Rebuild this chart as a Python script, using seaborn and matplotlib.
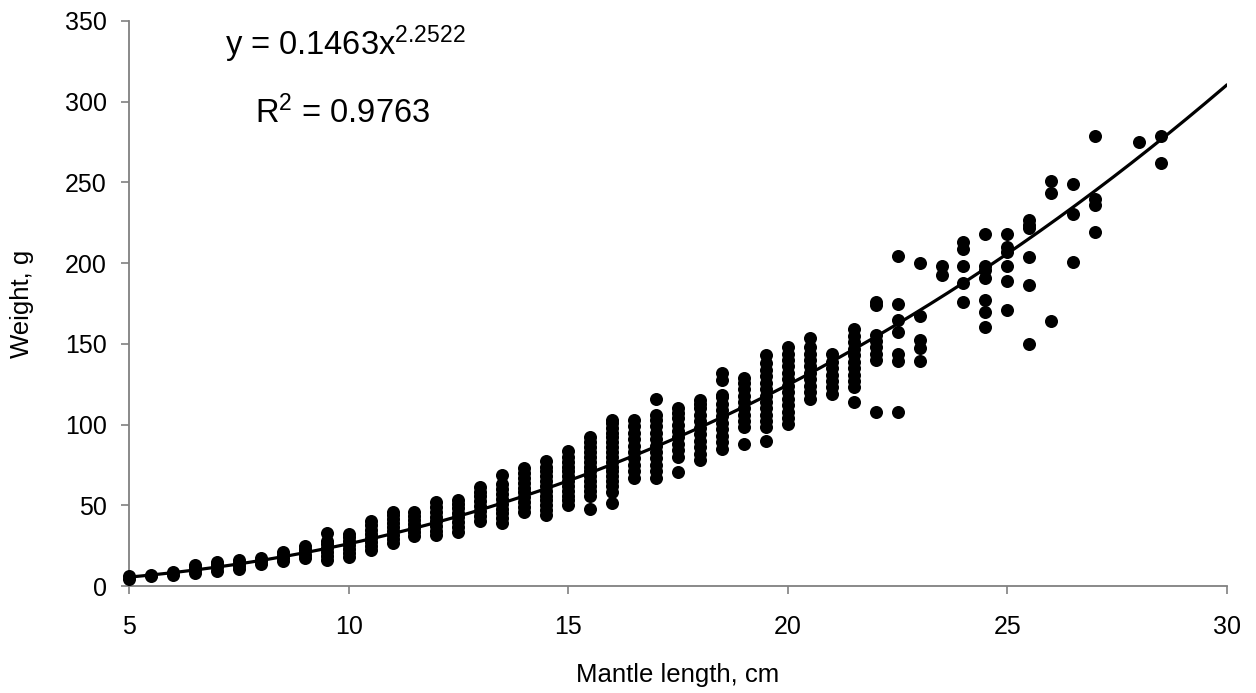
import numpy as np
import pandas as pd
import matplotlib
matplotlib.use("Agg")
from matplotlib import pyplot as plt
import seaborn as sns

mantle_cm = [5.0, 5.5, 6.0, 6.5, 7.0, 7.5, 8.0, 8.5, 9.0, 9.5,
             10.0, 10.5, 11.0, 11.5, 12.0, 12.5, 13.0, 13.5, 14.0, 14.5,
             15.0, 15.5, 16.0, 16.5, 17.0, 17.5, 18.0, 18.5, 19.0, 19.5,
             20.0, 20.5, 21.0, 21.5, 22.0, 22.5, 23.0, 23.5, 24.0, 24.5,
             25.0, 25.5, 26.0, 26.5, 27.0, 28.0, 28.5]

weight_g = [
    [4.5, 6],
    [6, 7],
    [7, 8.5],
    [8, 10, 12, 13],
    [9.5, 11.5, 13.5, 15],
    [10.5, 12.5, 14.5, 16],
    [13.5, 15.5, 17.5],
    [15.5, 17.5, 19.5, 21],
    [17.5, 19.5, 21.5, 23, 24.5],
    [16, 18.5, 21, 23.5, 26, 28, 33],
    [18, 20.5, 23, 25.5, 28, 30.5, 32.5],
    [22.5, 25, 27.5, 30, 32.5, 35, 37.5, 40.5],
    [26.5, 29, 31.5, 34, 36.5, 39, 41.5, 44, 46],
    [31, 33.5, 36, 38.5, 41, 43.5, 46],
    [31.5, 34, 37, 40, 43, 46, 49, 52],
    [33.5, 36.5, 39.5, 42.5, 45.5, 48.5, 51, 53.5],
    [40.5, 43.5, 46.5, 49.5, 52.5, 55.5, 58.5, 61.5],
    [39, 42, 45, 48, 51, 54, 57, 60, 63, 69],
    [46, 49, 52, 55, 58, 61, 64, 67, 70, 73],
    [44, 47, 50, 53, 56, 59, 62, 65, 68, 71, 74, 77.5],
    [50, 53, 56, 59, 62, 65, 68, 71, 74, 77, 80, 83.5],
    [48, 56, 59, 62, 65, 68, 71, 74, 77, 80, 83, 86, 89, 92.5],
    [51.5, 58.5, 62, 65, 68, 71, 74, 77, 80, 83, 86, 89, 92, 95, 98, 101, 103],
    [67, 71, 75, 79, 83, 87, 91, 95, 99, 103],
    [67, 71, 75, 79, 83, 87, 91, 95, 99, 103, 106, 116],
    [70.5, 80, 84, 88, 92, 96, 100, 104, 107, 110],
    [78, 82, 86, 90, 94, 98, 102, 106, 110, 113, 115.5],
    [85, 89, 93, 97, 101, 105, 109, 113, 117, 118.5, 127.5, 132],
    [88, 98.5, 102, 106, 110, 114, 118, 122, 126, 129],
    [90, 98.5, 102, 106, 110, 114, 118, 122, 126, 130, 134, 138, 143],
    [100.5, 104, 108, 112, 116, 120, 124, 128, 132, 136, 140, 144, 148],
    [116, 120, 124, 128, 132, 136, 140, 144, 148, 153.5],
    [119, 123, 127, 131, 135, 139, 144],
    [114, 123.5, 127, 131, 135, 139, 143, 147, 151, 155, 159],
    [108, 140, 144, 148, 152, 155.5, 174, 176],
    [108, 139.5, 144, 157.5, 165, 174.5, 204.5],
    [139.5, 147.5, 152.5, 167, 200],
    [192.5, 198.5],
    [176, 187.5, 198, 208.5, 213],
    [160.5, 169.5, 177, 190.5, 195.5, 198, 218],
    [171, 189, 198, 207, 210, 218],
    [150, 186.5, 203.5, 221.5, 223.5, 227],
    [164, 243.5, 251],
    [201, 230.5, 249],
    [219, 236, 240, 279],
    [275],
    [262, 279],
]

# power trend line printed on the chart
fit_a = 0.1463
fit_b = 2.2522
r_squared = 0.9763

x_ticks = [5, 10, 15, 20, 25, 30]
y_ticks = [0, 50, 100, 150, 200, 250, 300, 350]

rows = [(m, w) for m, ws in zip(mantle_cm, weight_g) for w in ws]
df = pd.DataFrame(rows, columns=['Mantle length', 'Weight'])

sns.set_style('ticks')
plt.rcParams['font.family'] = ['Liberation Sans', 'DejaVu Sans']
plt.rcParams['mathtext.fontset'] = 'custom'
plt.rcParams['mathtext.rm'] = 'Liberation Sans'
plt.rcParams['mathtext.it'] = 'Liberation Sans'
plt.rcParams['text.color'] = 'black'
plt.rcParams['axes.labelcolor'] = 'black'

fig = plt.figure(figsize=(12.56, 6.93), dpi=100)
ax = fig.add_axes([0.1027, 0.1544, 0.8742, 0.8153])

fit_x = np.linspace(x_ticks[0], x_ticks[-1], 300)
fit_y = fit_a * fit_x ** fit_b
sns.lineplot(x=fit_x, y=fit_y, color='black', linewidth=2.3, ax=ax)

sns.scatterplot(data=df, x='Mantle length', y='Weight', color='black',
                s=88, linewidth=0, clip_on=False, ax=ax, zorder=3)

ax.set_xlim(x_ticks[0], x_ticks[-1])
ax.set_ylim(y_ticks[0], y_ticks[-1])
ax.set_xticks(x_ticks)
ax.set_yticks(y_ticks)
ax.tick_params(axis='both', labelsize=18, length=6, width=1.2,
               color='#808080', labelcolor='black')
ax.tick_params(axis='x', pad=15)
ax.tick_params(axis='y', pad=10)

for side in ['top', 'right']:
    ax.spines[side].set_visible(False)
for side in ['left', 'bottom']:
    ax.spines[side].set_color('#808080')
    ax.spines[side].set_linewidth(1.3)

ax.set_xlabel('Mantle length, cm', fontsize=18.5, labelpad=17)
ax.set_ylabel('Weight, g', fontsize=18.5, labelpad=22)

ax.text(9.92, 329, 'y = 0.1463x$^{2.2522}$', fontsize=23.5, ha='center', va='baseline')
ax.text(9.87, 287, 'R$^{2}$ = 0.9763', fontsize=23.5, ha='center', va='baseline')

plt.savefig('out.png', dpi=100)
